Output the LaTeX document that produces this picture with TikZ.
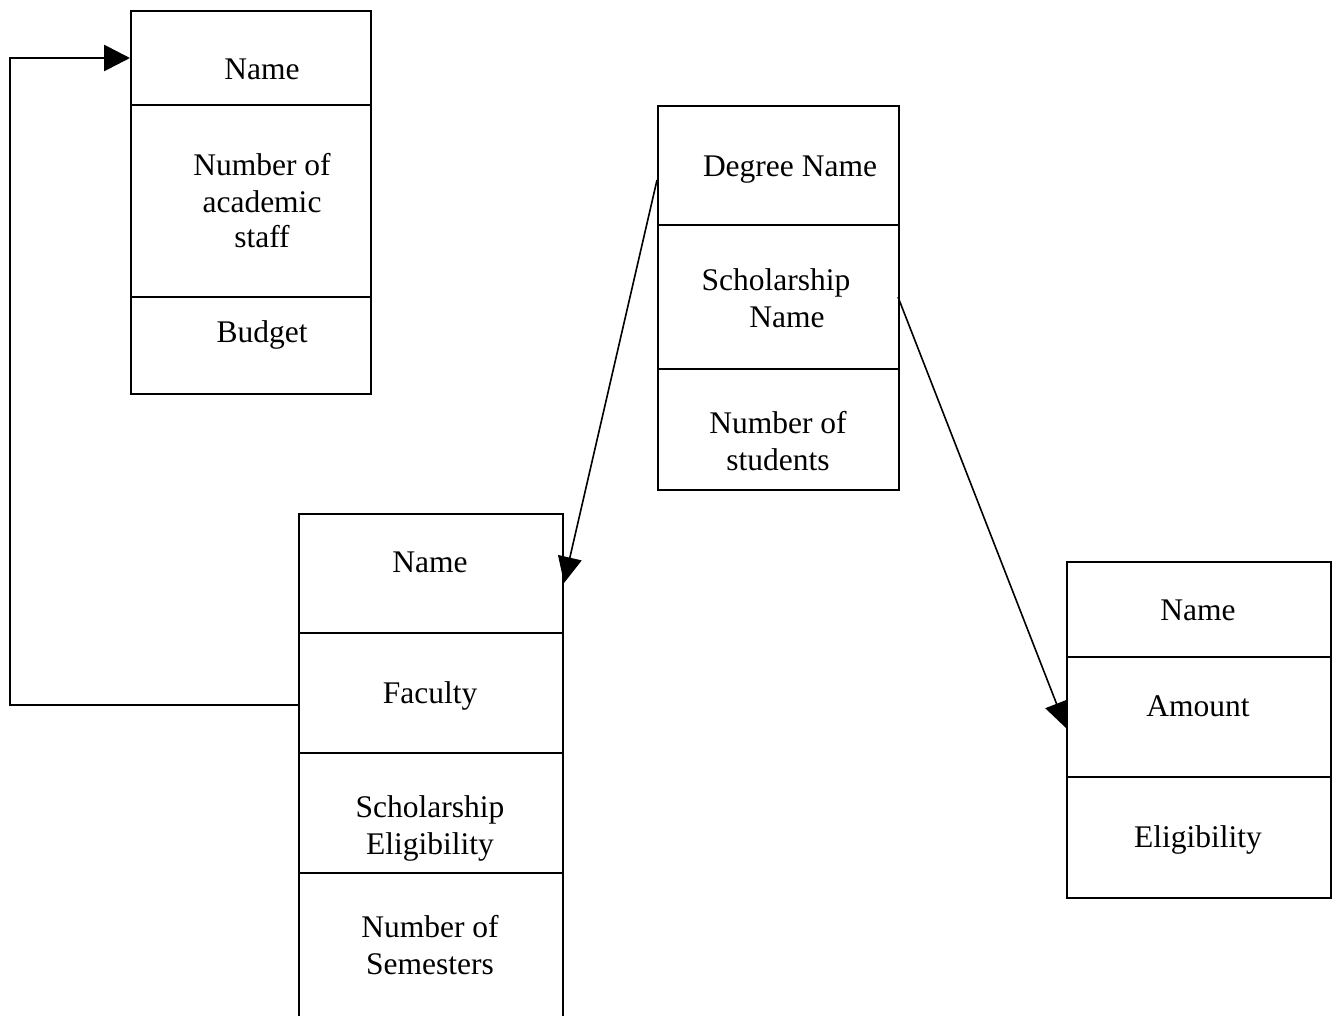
\documentclass[tikz,border=0pt]{standalone}
\usepackage{fontspec}
\setmainfont{Liberation Serif}
\usetikzlibrary{arrows.meta}
\begin{document}
\begin{tikzpicture}[x=1pt,y=-1pt,
  table/.style={draw, line width=2pt, rectangle, inner sep=0pt, anchor=north west},
  rule/.style={line width=1.7pt},
  lbl/.style={anchor=base, inner sep=0pt, font=\fontsize{31.5}{36}\selectfont},
  link/.style={line width=1.6pt, -{Triangle[length=26pt,width=24pt]}},
  loop/.style={line width=2.8pt, -{Triangle[length=26pt,width=26pt]}}]
\clip (0,0) rectangle (1332,1015);
\fill[white] (0,0) rectangle (1332,1015);

% Department table
\node[table, minimum width=240pt, minimum height=383pt] (dept) at (130,10) {};
\draw[rule] (130,105) -- (370,105);
\draw[rule] (130,297) -- (370,297);
\node[lbl] (dname) at (262,79) {Name};
\node[lbl] (dstaff1) at (262,175) {Number of};
\node[lbl] (dstaff2) at (262,212) {academic};
\node[lbl] (dstaff3) at (262,247) {staff};
\node[lbl] (dbudget) at (262,342) {Budget};

% Degree table (runs past the lower edge)
\node[table, minimum width=264pt, minimum height=520pt] (deg) at (298,513) {};
\draw[rule] (298,633) -- (562,633);
\draw[rule] (298,753) -- (562,753);
\draw[rule] (298,873) -- (562,873);
\node[lbl] (gname) at (430,572) {Name};
\node[lbl] (gfac) at (430,703) {Faculty};
\node[lbl] (gsch1) at (430,817) {Scholarship};
\node[lbl] (gsch2) at (430,854) {Eligibility};
\node[lbl] (gsem1) at (430,937) {Number of};
\node[lbl] (gsem2) at (430,974) {Semesters};

% Scholarship-in-degree table
\node[table, minimum width=241pt, minimum height=384pt] (sd) at (657,105) {};
\draw[rule] (657,225) -- (898,225);
\draw[rule] (657,369) -- (898,369);
\node[lbl] (sdeg) at (790,176) {Degree Name};
\node[lbl] (ssch1) at (776,290) {Scholarship};
\node[lbl] (ssch2) at (787,327) {Name};
\node[lbl] (sstu1) at (778,433) {Number of};
\node[lbl] (sstu2) at (778,470) {students};

% Scholarship table
\node[table, minimum width=264pt, minimum height=336pt] (sch) at (1066,561) {};
\draw[rule] (1066,657) -- (1330,657);
\draw[rule] (1066,777) -- (1330,777);
\node[lbl] (cname) at (1198,620) {Name};
\node[lbl] (camt) at (1198,716) {Amount};
\node[lbl] (celig) at (1198,847) {Eligibility};

% Connectors
\coordinate (facout) at (298,705);
\coordinate (bendlow) at (10,705);
\coordinate (bendhigh) at (10,58);
\coordinate (deptin) at (130,58);
\draw[loop] (facout) -- (bendlow) -- (bendhigh) -- (deptin);

\coordinate (degout) at (657,180);
\coordinate (degin) at (564,583);
\draw[link] (degout) -- (degin);

\coordinate (schout) at (898,297);
\coordinate (schin) at (1066,728);
\draw[link] (schout) -- (schin);
\end{tikzpicture}
\end{document}
